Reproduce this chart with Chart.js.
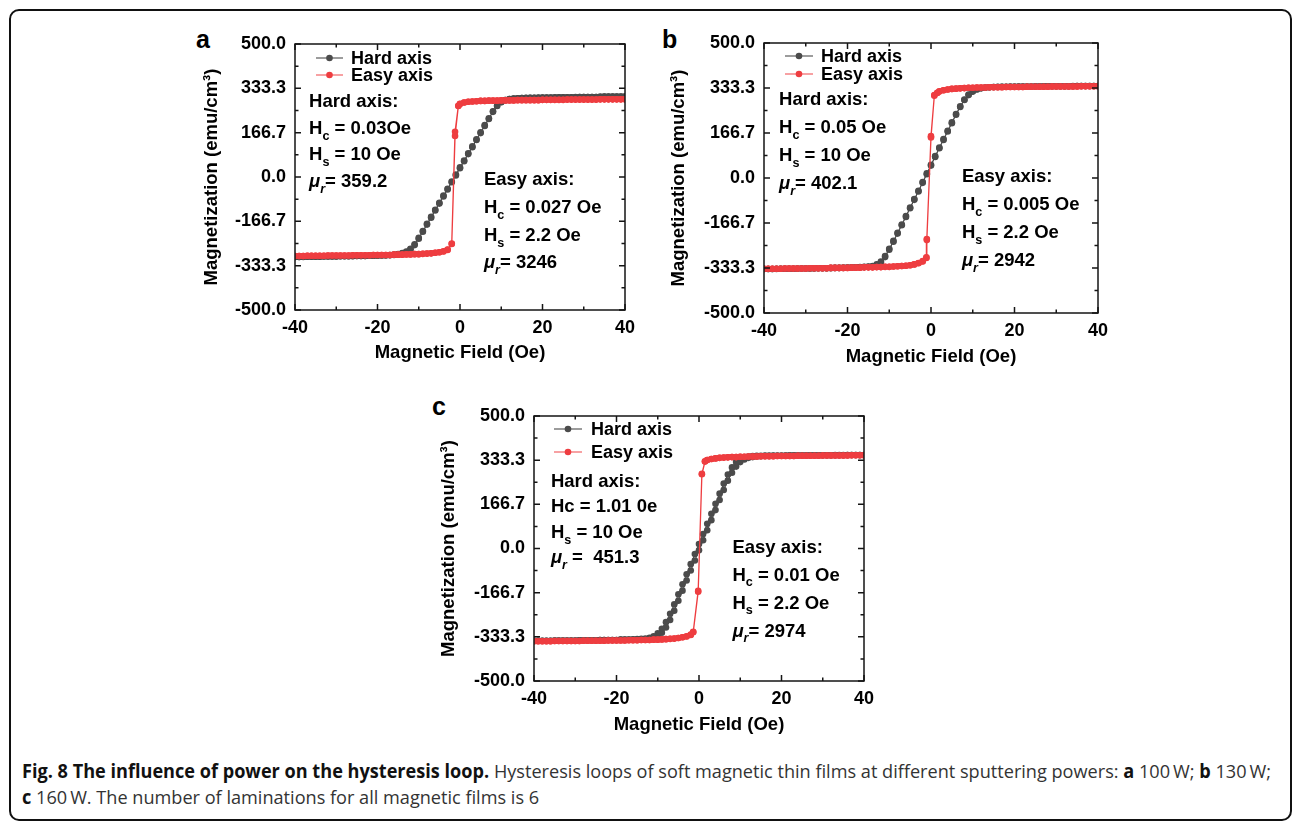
<!DOCTYPE html>
<html lang="en">
<head>
<meta charset="UTF-8">
<title>Hysteresis loops</title>
<script src="https://cdn.jsdelivr.net/npm/chart.js"></script>
<style>
  body { margin: 0; background: #fff; }
  #page { position: relative; width: 1292px; height: 824px; overflow: hidden; font-family: "Liberation Sans", Arial, sans-serif; }
  .frame { position: absolute; left: 9px; top: 9px; width: 1283px; height: 812px; box-sizing: border-box; border: 2px solid #111; border-radius: 10px; }
  .box { position: absolute; }
  .tag { position: absolute; font-weight: bold; font-size: 25px; line-height: 1; color: #000; }
  #caption { position: absolute; left: 22px; top: 758px; font-family: "Open Sans", sans-serif; font-size: 19px; line-height: 26px; color: #333; }
  #caption .cl { white-space: nowrap; width: max-content; transform-origin: 0 50%; }
  #caption b { color: #111; font-weight: 700; }
</style>
</head>
<body>
<div id="page">
  <div class="frame"></div>

  <div class="tag" style="left:196px; top:27px;">a</div>
  <div class="tag" style="left:662px; top:27px;">b</div>
  <div class="tag" style="left:432px; top:394px;">c</div>

  <div class="box" style="left:190px; top:30px;"><canvas id="chartA" width="445" height="340"></canvas></div>
  <div class="box" style="left:660px; top:30px;"><canvas id="chartB" width="450" height="345"></canvas></div>
  <div class="box" style="left:425px; top:400px;"><canvas id="chartC" width="450" height="345"></canvas></div>

  <div id="caption">
    <div class="cl" id="cl1"><b>Fig. 8 The influence of power on the hysteresis loop.</b> Hysteresis loops of soft magnetic thin films at different sputtering powers: <b>a</b> 100&#8201;W; <b>b</b> 130&#8201;W;</div>
    <div class="cl" id="cl2"><b>c</b> 160&#8201;W. The number of laminations for all magnetic films is 6</div>
  </div>
</div>

<script>
// axis ticks
const xTicks = [-40, -20, 0, 20, 40];
const xMinor = [-30, -10, 10, 30];
const yTicks = [-500, -333.3, -166.7, 0, 166.7, 333.3, 500];
const yMinor = [-416.7, -250, -83.3, 83.3, 250, 416.7];

// applied field (Oe), hard-axis branches are sampled every 1 Oe
const field = [
  -40, -39, -38, -37, -36, -35, -34, -33, -32, -31,
  -30, -29, -28, -27, -26, -25, -24, -23, -22, -21,
  -20, -19, -18, -17, -16, -15, -14, -13, -12, -11,
  -10, -9, -8, -7, -6, -5, -4, -3, -2, -1,
  0, 1, 2, 3, 4, 5, 6, 7, 8, 9,
  10, 11, 12, 13, 14, 15, 16, 17, 18, 19,
  20, 21, 22, 23, 24, 25, 26, 27, 28, 29,
  30, 31, 32, 33, 34, 35, 36, 37, 38, 39,
  40
];

// ---- panel a (100 W) ----
const hardUpA = [
  -301, -301, -301, -300, -300, -300, -300, -299, -299, -299,
  -299, -298, -298, -298, -298, -297, -297, -297, -296, -296,
  -296, -295, -295, -294, -293, -291, -288, -282, -272, -256,
  -232, -206, -179, -153, -126, -100, -73, -47, -20, 6,
  33, 59, 86, 112, 139, 165, 192, 218, 245, 267,
  281, 289, 293, 295, 296, 297, 297, 298, 298, 298,
  299, 299, 299, 299, 300, 300, 300, 300, 300, 301,
  301, 301, 301, 301, 301, 302, 302, 302, 302, 302,
  302
];
const hardDownA = [
  -301, -301, -300, -300, -300, -300, -300, -299, -299, -299,
  -299, -298, -298, -298, -297, -297, -297, -297, -296, -296,
  -295, -295, -294, -293, -292, -290, -286, -280, -270, -253,
  -229, -203, -176, -150, -123, -97, -70, -44, -17, 9,
  36, 62, 89, 115, 142, 168, 195, 221, 247, 268,
  282, 289, 293, 295, 296, 297, 298, 298, 298, 299,
  299, 299, 299, 300, 300, 300, 300, 300, 301, 301,
  301, 301, 301, 301, 302, 302, 302, 302, 302, 302,
  302
];
const easyFieldA = [
  -40, -39, -38, -37, -36, -35, -34, -33, -32, -31,
  -30, -29, -28, -27, -26, -25, -24, -23, -22, -21,
  -20, -19, -18, -17, -16, -15, -14, -13, -12, -11,
  -10, -9, -8, -7, -6, -5, -4, -3, -2,
  -1.2, -0.4,
  0, 1, 2, 3, 4, 5, 6, 7, 8, 9,
  10, 11, 12, 13, 14, 15, 16, 17, 18, 19,
  20, 21, 22, 23, 24, 25, 26, 27, 28, 29,
  30, 31, 32, 33, 34, 35, 36, 37, 38, 39,
  40
];
const easyUpA = [
  -297, -297, -297, -296, -296, -296, -296, -296, -295, -295,
  -295, -295, -295, -295, -294, -294, -294, -294, -294, -293,
  -293, -293, -293, -293, -292, -292, -292, -291, -291, -290,
  -290, -289, -288, -287, -285, -283, -280, -274, -252,
  154, 267,
  274, 280, 283, 284, 285, 286, 286, 287, 287, 287,
  288, 288, 288, 288, 289, 289, 289, 289, 289, 289,
  290, 290, 290, 290, 290, 290, 291, 291, 291, 291,
  291, 291, 291, 291, 292, 292, 292, 292, 292, 292,
  292
];
const easyDownA = [
  -297, -297, -297, -296, -296, -296, -296, -296, -295, -295,
  -295, -295, -295, -295, -294, -294, -294, -294, -294, -293,
  -293, -293, -293, -293, -292, -292, -292, -291, -291, -290,
  -290, -289, -288, -287, -285, -283, -279, -273, -250,
  170, 268,
  275, 280, 283, 284, 285, 286, 286, 287, 287, 287,
  288, 288, 288, 288, 289, 289, 289, 289, 289, 289,
  290, 290, 290, 290, 290, 290, 291, 291, 291, 291,
  291, 291, 291, 291, 292, 292, 292, 292, 292, 292,
  292
];

// ---- panel b (130 W) ----
const hardUpB = [
  -337, -337, -337, -337, -336, -336, -336, -336, -336, -335,
  -335, -335, -335, -334, -334, -334, -334, -333, -333, -333,
  -332, -332, -331, -331, -330, -329, -328, -323, -313, -293,
  -266, -236, -206, -175, -144, -112, -81, -50, -18, 14,
  46, 78, 110, 141, 172, 203, 234, 263, 289, 307,
  320, 328, 332, 334, 336, 337, 337, 338, 338, 338,
  338, 339, 339, 339, 339, 339, 339, 340, 340, 340,
  340, 340, 340, 340, 340, 341, 341, 341, 341, 341,
  341
];
const hardDownB = [
  -337, -337, -337, -336, -336, -336, -336, -336, -335, -335,
  -335, -335, -334, -334, -334, -334, -333, -333, -333, -332,
  -332, -331, -331, -330, -329, -328, -326, -320, -309, -289,
  -262, -233, -203, -172, -141, -109, -78, -47, -15, 17,
  49, 81, 113, 144, 175, 206, 237, 266, 291, 309,
  321, 329, 333, 335, 336, 337, 338, 338, 338, 339,
  339, 339, 339, 339, 339, 340, 340, 340, 340, 340,
  340, 340, 340, 340, 341, 341, 341, 341, 341, 341,
  341
];
const easyFieldB = [
  -40, -39, -38, -37, -36, -35, -34, -33, -32, -31,
  -30, -29, -28, -27, -26, -25, -24, -23, -22, -21,
  -20, -19, -18, -17, -16, -15, -14, -13, -12, -11,
  -10, -9, -8, -7, -6, -5, -4, -3, -2,
  -1.1, -1.0, 0, 0.8, 1.5,
  2, 3, 4, 5, 6, 7, 8, 9, 10, 11,
  12, 13, 14, 15, 16, 17, 18, 19, 20, 21,
  22, 23, 24, 25, 26, 27, 28, 29, 30, 31,
  32, 33, 34, 35, 36, 37, 38, 39, 40
];
const easyUpB = [
  -336, -336, -336, -336, -336, -335, -335, -335, -335, -335,
  -335, -334, -334, -334, -334, -334, -333, -333, -333, -333,
  -333, -332, -332, -332, -331, -331, -331, -330, -330, -329,
  -329, -328, -327, -326, -325, -323, -320, -316, -309,
  -296, -230, 155, 305, 315,
  320, 325, 328, 330, 331, 332, 333, 334, 334, 335,
  335, 335, 336, 336, 336, 336, 337, 337, 337, 337,
  337, 338, 338, 338, 338, 338, 338, 339, 339, 339,
  339, 339, 339, 339, 340, 340, 340, 340, 340
];
const easyDownB = [
  -336, -336, -336, -336, -336, -335, -335, -335, -335, -335,
  -335, -334, -334, -334, -334, -334, -333, -333, -333, -333,
  -333, -332, -332, -332, -331, -331, -331, -330, -330, -329,
  -329, -328, -327, -326, -325, -323, -320, -315, -308,
  -294, -226, 150, 307, 316,
  321, 325, 328, 330, 331, 332, 333, 334, 334, 335,
  335, 335, 336, 336, 336, 336, 337, 337, 337, 337,
  337, 338, 338, 338, 338, 338, 338, 339, 339, 339,
  339, 339, 339, 339, 340, 340, 340, 340, 340
];

// ---- panel c (160 W) ----
const hardUpC = [
  -348, -348, -348, -348, -348, -347, -347, -347, -347, -347,
  -347, -346, -346, -346, -346, -346, -345, -345, -345, -345,
  -345, -344, -344, -344, -344, -344, -344, -343, -342, -338,
  -331, -318, -298, -270, -235, -197, -159, -121, -83, -45,
  -7, 31, 69, 107, 145, 183, 221, 256, 286, 309,
  326, 336, 342, 345, 347, 348, 349, 349, 350, 350,
  350, 351, 351, 351, 351, 351, 351, 352, 352, 352,
  352, 352, 352, 352, 352, 352, 353, 353, 353, 353,
  353
];
const hardDownC = [
  -348, -348, -348, -348, -348, -347, -347, -347, -347, -347,
  -347, -346, -346, -346, -346, -346, -345, -345, -345, -345,
  -345, -344, -344, -344, -343, -342, -341, -340, -337, -331,
  -320, -303, -278, -246, -211, -173, -135, -97, -59, -21,
  17, 55, 93, 131, 169, 207, 245, 279, 306, 326,
  337, 344, 347, 349, 350, 350, 351, 351, 351, 351,
  351, 351, 352, 352, 352, 352, 352, 352, 352, 352,
  352, 352, 352, 353, 353, 353, 353, 353, 353, 353,
  353
];
const easyFieldC = [
  -40, -39, -38, -37, -36, -35, -34, -33, -32, -31,
  -30, -29, -28, -27, -26, -25, -24, -23, -22, -21,
  -20, -19, -18, -17, -16, -15, -14, -13, -12, -11,
  -10, -9, -8, -7, -6, -5, -4, -3, -2,
  -1.4, -0.2, 0.7, 1.45,
  2, 3, 4, 5, 6, 7, 8, 9, 10, 11,
  12, 13, 14, 15, 16, 17, 18, 19, 20, 21,
  22, 23, 24, 25, 26, 27, 28, 29, 30, 31,
  32, 33, 34, 35, 36, 37, 38, 39, 40
];
const easyUpC = [
  -350, -350, -350, -350, -350, -349, -349, -349, -349, -349,
  -349, -349, -348, -348, -348, -348, -348, -348, -347, -347,
  -347, -347, -347, -346, -346, -346, -345, -345, -345, -344,
  -344, -343, -342, -341, -340, -338, -335, -332, -326,
  -316, -163, 280, 328,
  334, 338, 340, 342, 343, 344, 345, 345, 346, 346,
  347, 347, 347, 348, 348, 348, 348, 349, 349, 349,
  349, 349, 350, 350, 350, 350, 350, 350, 351, 351,
  351, 351, 351, 351, 351, 352, 352, 352, 352
];
const easyDownC = [
  -350, -350, -350, -350, -350, -349, -349, -349, -349, -349,
  -349, -349, -348, -348, -348, -348, -348, -348, -347, -347,
  -347, -347, -347, -346, -346, -346, -345, -345, -345, -344,
  -344, -343, -342, -341, -340, -338, -335, -331, -325,
  -314, -160, 282, 329,
  334, 338, 340, 342, 343, 344, 345, 345, 346, 346,
  347, 347, 347, 348, 348, 348, 348, 349, 349, 349,
  349, 349, 350, 350, 350, 350, 350, 350, 351, 351,
  351, 351, 351, 351, 351, 352, 352, 352, 352
];

// text blocks inside each plot (segments: [text, style])
const notesA = [
  { x: -36.6, y: 287, gap: 26.5, lines: [
    [['Hard axis:']],
    [['H'], ['c', 'sub'], [' = 0.03Oe']],
    [['H'], ['s', 'sub'], [' = 10 Oe']],
    [['\u03bc', 'it'], ['r', 'itsub'], ['= 359.2']]
  ]},
  { x: 5.8, y: -7, gap: 27.7, lines: [
    [['Easy axis:']],
    [['H'], ['c', 'sub'], [' = 0.027 Oe']],
    [['H'], ['s', 'sub'], [' = 2.2 Oe']],
    [['\u03bc', 'it'], ['r', 'itsub'], ['= 3246']]
  ]}
];
const notesB = [
  { x: -36.4, y: 293, gap: 27.9, lines: [
    [['Hard axis:']],
    [['H'], ['c', 'sub'], [' = 0.05 Oe']],
    [['H'], ['s', 'sub'], [' = 10 Oe']],
    [['\u03bc', 'it'], ['r', 'itsub'], ['= 402.1']]
  ]},
  { x: 7.4, y: 8.5, gap: 27.8, lines: [
    [['Easy axis:']],
    [['H'], ['c', 'sub'], [' = 0.005 Oe']],
    [['H'], ['s', 'sub'], [' = 2.2 Oe']],
    [['\u03bc', 'it'], ['r', 'itsub'], ['= 2942']]
  ]}
];
const notesC = [
  { x: -35.9, y: 258, gap: 25.6, lines: [
    [['Hard axis:']],
    [['Hc = 1.01 0e']],
    [['H'], ['s', 'sub'], [' = 10 Oe']],
    [['\u03bc', 'it'], ['r', 'itsub'], [' =  451.3']]
  ]},
  { x: 8.1, y: 9.4, gap: 28, lines: [
    [['Easy axis:']],
    [['H'], ['c', 'sub'], [' = 0.01 Oe']],
    [['H'], ['s', 'sub'], [' = 2.2 Oe']],
    [['\u03bc', 'it'], ['r', 'itsub'], ['= 2974']]
  ]}
];

const GRAY = '#4b4b4b';
const RED = '#ee3d40';
const FONT = '"Liberation Sans", Arial, Helvetica, sans-serif';

function loop(xs, up, down) {
  const a = xs.map((x, i) => ({ x: x, y: up[i] }));
  const b = xs.map((x, i) => ({ x: x, y: down[i] })).reverse();
  return a.concat(b);
}

function richLine(ctx, x, y, segs, size) {
  segs.forEach(seg => {
    const txt = seg[0], st = seg[1] || '';
    const sub = st.indexOf('sub') >= 0;
    const it = st.indexOf('it') >= 0;
    const fs = sub ? size * 0.68 : size;
    ctx.font = (it ? 'italic ' : '') + 'bold ' + fs + 'px ' + FONT;
    ctx.fillText(txt, x, sub ? y + size * 0.32 : y);
    x += ctx.measureText(txt).width;
  });
}

// frame, inward ticks, legend and the text blocks
const hystPlugin = {
  id: 'hyst',
  afterDatasetsDraw(chart, args, opts) {
    const { ctx, chartArea: a, scales } = chart;
    const sx = scales.x, sy = scales.y;
    ctx.save();
    ctx.strokeStyle = '#151515';
    ctx.lineWidth = 1.5;
    ctx.beginPath();
    const xt = (v, len) => {
      const p = sx.getPixelForValue(v);
      ctx.moveTo(p, a.bottom); ctx.lineTo(p, a.bottom - len);
      ctx.moveTo(p, a.top); ctx.lineTo(p, a.top + len);
    };
    const yt = (v, len) => {
      const p = sy.getPixelForValue(v);
      ctx.moveTo(a.left, p); ctx.lineTo(a.left + len, p);
      ctx.moveTo(a.right, p); ctx.lineTo(a.right - len, p);
    };
    xTicks.forEach(v => xt(v, 6));
    xMinor.forEach(v => xt(v, 3.5));
    yTicks.forEach(v => yt(v, 6));
    yMinor.forEach(v => yt(v, 3.5));
    ctx.stroke();
    ctx.strokeRect(a.left, a.top, a.right - a.left, a.bottom - a.top);

    // legend
    const lg = opts.legend;
    const rows = [['Hard axis', GRAY, 'rgba(75,75,75,0.85)'], ['Easy axis', RED, 'rgba(238,61,64,0.75)']];
    rows.forEach((r, i) => {
      const yy = a.top + lg.rows[i];
      ctx.strokeStyle = r[2];
      ctx.lineWidth = 1.3;
      ctx.beginPath();
      ctx.moveTo(a.left + lg.x1, yy); ctx.lineTo(a.left + lg.x2, yy);
      ctx.stroke();
      ctx.fillStyle = r[1];
      ctx.beginPath();
      ctx.arc(a.left + (lg.x1 + lg.x2) / 2, yy, 3.3, 0, Math.PI * 2);
      ctx.fill();
      ctx.fillStyle = '#000';
      ctx.font = 'bold 18px ' + FONT;
      ctx.textBaseline = 'middle';
      ctx.fillText(r[0], a.left + lg.text, yy + 1);
    });

    // annotation blocks
    ctx.fillStyle = '#000';
    ctx.textBaseline = 'alphabetic';
    opts.notes.forEach(n => {
      const x0 = sx.getPixelForValue(n.x);
      const y0 = sy.getPixelForValue(n.y);
      n.lines.forEach((ln, i) => {
        richLine(ctx, x0, y0 + i * n.gap + 6.5, ln, 18.5);
      });
    });
    ctx.restore();
  }
};

function makeChart(id, box, hardUp, hardDown, easyField, easyUp, easyDown, notes, legend) {
  const tickFont = { family: FONT, size: 18, weight: 'bold' };
  const titleFont = { family: FONT, size: 18.5, weight: 'bold' };
  return new Chart(document.getElementById(id), {
    type: 'scatter',
    data: {
      datasets: [
        {
          label: 'Easy axis',
          data: loop(easyField, easyUp, easyDown),
          showLine: true,
          borderColor: RED,
          backgroundColor: RED,
          borderWidth: 1.3,
          pointRadius: 3.3,
          pointBorderWidth: 0,
          pointHoverRadius: 3.3,
          clip: 0,
          order: 0
        },
        {
          label: 'Hard axis',
          data: loop(field, hardUp, hardDown),
          showLine: true,
          borderColor: GRAY,
          backgroundColor: GRAY,
          borderWidth: 1,
          pointRadius: 3.3,
          pointBorderWidth: 0,
          pointHoverRadius: 3.3,
          clip: 0,
          order: 1
        }
      ]
    },
    options: {
      responsive: false,
      animation: false,
      events: [],
      layout: { padding: { top: box.top, right: box.right, left: 0, bottom: 0 } },
      plugins: {
        legend: { display: false },
        tooltip: { enabled: false },
        hyst: { notes: notes, legend: legend }
      },
      scales: {
        x: {
          type: 'linear',
          min: -40, max: 40,
          afterBuildTicks: s => { s.ticks = xTicks.map(v => ({ value: v })); },
          afterFit: s => { s.height = box.xH; s.paddingLeft = 0; s.paddingRight = 0; },
          grid: { display: false, drawTicks: false },
          border: { display: false },
          ticks: { color: '#000', font: tickFont, padding: 7, maxRotation: 0, autoSkip: false },
          title: { display: true, text: 'Magnetic Field (Oe)', color: '#000', font: titleFont, padding: { top: 0, bottom: box.xTitle } }
        },
        y: {
          type: 'linear',
          min: -500, max: 500,
          afterBuildTicks: s => { s.ticks = yTicks.map(v => ({ value: v })); },
          afterFit: s => { s.width = box.yW; s.paddingTop = 0; s.paddingBottom = 0; },
          grid: { display: false, drawTicks: false },
          border: { display: false },
          ticks: { color: '#000', font: tickFont, padding: 9, autoSkip: false, callback: v => v.toFixed(1) },
          title: { display: true, text: 'Magnetization (emu/cm\u00b3)', color: '#000', font: titleFont, padding: { top: box.yTitle, bottom: 0 } }
        }
      }
    },
    plugins: [hystPlugin]
  });
}

makeChart('chartA', { top: 14, right: 10, yW: 105, xH: 60, yTitle: 11, xTitle: 6 },
  hardUpA, hardDownA, easyFieldA, easyUpA, easyDownA, notesA,
  { x1: 21, x2: 48, text: 56, rows: [14, 31] });
makeChart('chartB', { top: 13, right: 12, yW: 104, xH: 62, yTitle: 8, xTitle: 7 },
  hardUpB, hardDownB, easyFieldB, easyUpB, easyDownB, notesB,
  { x1: 21, x2: 49, text: 57, rows: [13, 31] });
makeChart('chartC', { top: 16, right: 11, yW: 109, xH: 64, yTitle: 13, xTitle: 9 },
  hardUpC, hardDownC, easyFieldC, easyUpC, easyDownC, notesC,
  { x1: 20, x2: 48, text: 57, rows: [13, 36] });

// squeeze the caption to the width of the printed one
const l1 = document.getElementById('cl1');
const l2 = document.getElementById('cl2');
const k = 1249 / l1.getBoundingClientRect().width;
l1.style.transform = 'scaleX(' + k + ')';
l2.style.transform = 'scaleX(' + k + ')';
</script>
</body>
</html>
